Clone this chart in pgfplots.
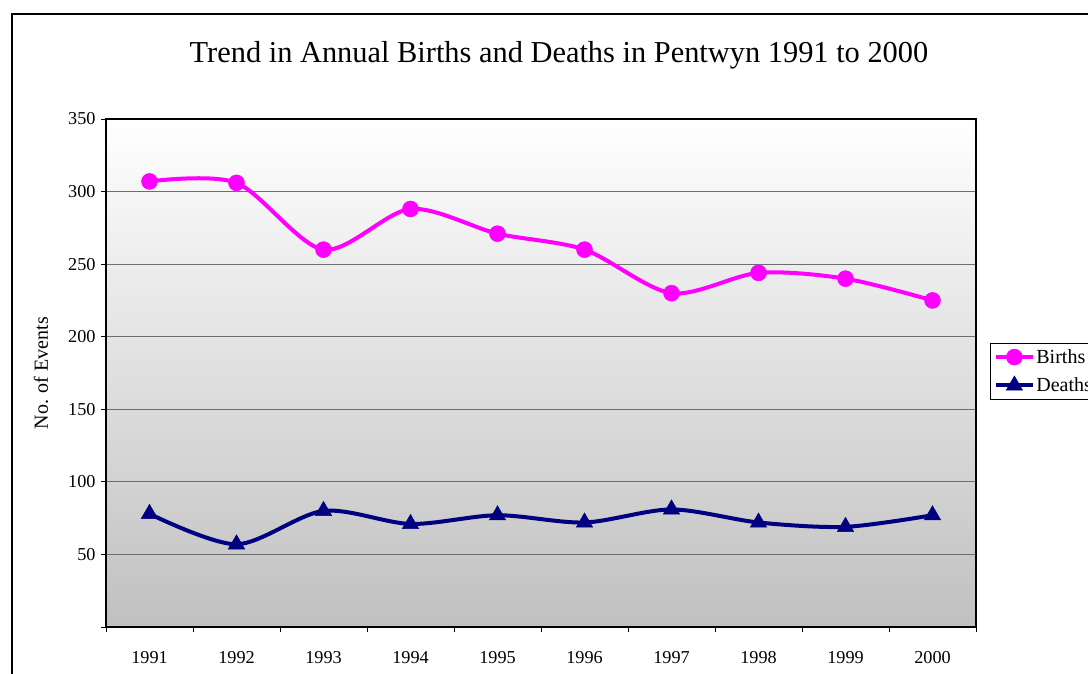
\documentclass[border=0pt]{standalone}
\usepackage{fontspec}
\setmainfont{Liberation Serif}
\usepackage{pgfplots}
\pgfplotsset{compat=1.18}
\definecolor{births}{RGB}{255,0,255}
\definecolor{deaths}{RGB}{0,0,128}
\definecolor{bgbottom}{RGB}{192,192,192}
\definecolor{gridc}{RGB}{110,110,110}
\begin{document}
\begin{tikzpicture}[x=1pt,y=1pt]
\clip (0,0) rectangle (1088,673);
\fill[white] (0,0) rectangle (1088,673);
\draw[black, line width=1.2pt] (12,-20) rectangle (1120,659);
\node[font=\fontsize{30.4}{36}\selectfont] at (559,618) {Trend in Annual Births and Deaths in Pentwyn 1991 to 2000};
\node[rotate=90, font=\fontsize{20}{24}\selectfont] at (41,300) {No. of Events};
\begin{axis}[
  at={(106pt,46pt)}, anchor=south west,
  scale only axis, width=870pt, height=508pt,
  xmin=-0.5, xmax=9.5, ymin=0, ymax=350,
  xtick={0,1,2,3,4,5,6,7,8,9},
  xticklabels={1991,1992,1993,1994,1995,1996,1997,1998,1999,2000},
  major x tick style={draw=none},
  minor xtick={-0.5,0.5,1.5,2.5,3.5,4.5,5.5,6.5,7.5,8.5,9.5},
  minor x tick style={black, line width=0.8pt},
  ytick={0,50,100,150,200,250,300,350},
  yticklabels={,50,100,150,200,250,300,350},
  major y tick style={black, line width=0.8pt},
  tick align=outside, tick pos=left,
  major tick length=5pt, minor tick length=5pt,
  ymajorgrids, grid style={gridc, line width=1pt},
  axis line style={black, line width=1.1pt},
  axis background/.style={top color=white, bottom color=bgbottom},
  ticklabel style={font=\fontsize{18.2}{21}\selectfont},
  xticklabel style={yshift=-16pt},
  yticklabel style={xshift=-2pt},
  legend style={at={(rel axis cs:1.0161,0.559)}, anchor=north west, draw=black, line width=0.8pt,
    font=\fontsize{20}{24}\selectfont, inner sep=4pt, row sep=9pt},
  legend cell align=left,
  legend image code/.code={\draw[#1, line width=4pt] (0pt,0pt) -- (36pt,0pt); \draw[#1, mark repeat=2, mark phase=2] plot coordinates {(0pt,0pt) (18pt,0pt) (36pt,0pt)};},
]
\addplot[births, line width=4pt, smooth, tension=0.5, mark=*, mark size=8pt, mark options={fill=births, draw=births, line width=0.5pt}]
  coordinates {(0,307) (1,306) (2,260) (3,288) (4,271) (5,260) (6,230) (7,244) (8,240) (9,225)};
\addlegendentry{Births}
\addplot[deaths, line width=4pt, smooth, tension=0.5, mark=triangle*, mark size=9.5pt, mark options={fill=deaths, draw=deaths, line width=0.5pt}]
  coordinates {(0,78) (1,57) (2,80) (3,71) (4,77) (5,72) (6,81) (7,72) (8,69) (9,77)};
\addlegendentry{Deaths}
\end{axis}
\end{tikzpicture}
\end{document}
